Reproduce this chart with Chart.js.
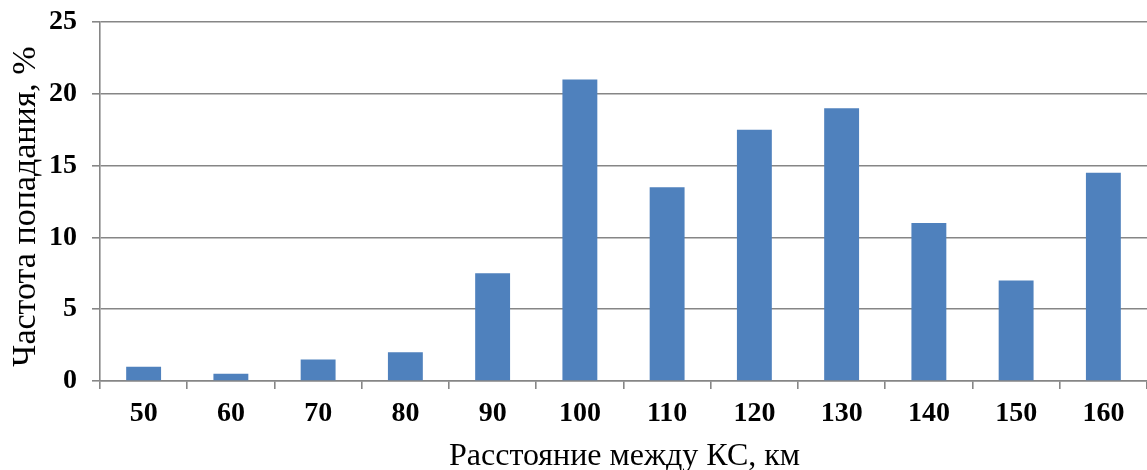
<!DOCTYPE html>
<html>
<head>
<meta charset="utf-8">
<script src="https://cdn.jsdelivr.net/npm/chart.js@4"></script>
<style>
  html, body { margin: 0; padding: 0; background: #fff; }
  #wrap { width: 1147px; height: 470px; }
</style>
</head>
<body>
<div id="wrap"><canvas id="c" width="1147" height="470"></canvas></div>
<script>
// Distance between compressor stations, km
const distances = ['50', '60', '70', '80', '90', '100', '110', '120', '130', '140', '150', '160'];
// Frequency of occurrence, %
const frequency = [1, 0.5, 1.5, 2, 7.5, 21, 13.5, 17.5, 19, 11, 7, 14.5];
const yTicks = [0, 5, 10, 15, 20, 25];

const xTitle = 'Расстояние между КС, км';
const yTitle = 'Частота попадания, %';

const serif = '"Liberation Serif", "Times New Roman", serif';
const gridColor = '#868686';

// Axis titles, placed relative to the chart area
const axisTitles = {
  id: 'axisTitles',
  afterDraw(chart) {
    const { ctx, chartArea } = chart;
    ctx.save();
    ctx.fillStyle = '#000';
    ctx.textAlign = 'center';
    ctx.textBaseline = 'alphabetic';
    ctx.font = '32px ' + serif;
    ctx.fillText(xTitle, (chartArea.left + chartArea.right) / 2 + 1, 465);
    ctx.translate(35, (chartArea.top + chartArea.bottom) / 2 + 5);
    ctx.rotate(-Math.PI / 2);
    ctx.font = '34px ' + serif;
    ctx.fillText(yTitle, 0, 0);
    ctx.restore();
  }
};

new Chart(document.getElementById('c'), {
  type: 'bar',
  data: {
    labels: distances,
    datasets: [{
      data: frequency,
      backgroundColor: '#4F81BD',
      borderWidth: 0,
      barPercentage: 0.4,
      categoryPercentage: 1.0
    }]
  },
  plugins: [axisTitles],
  options: {
    responsive: false,
    animation: false,
    layout: { padding: { top: 22, right: 0, bottom: 0, left: 0 } },
    plugins: { legend: { display: false }, tooltip: { enabled: false } },
    scales: {
      x: {
        offset: true,
        grid: {
          offset: true,
          drawOnChartArea: false,
          drawTicks: true,
          tickLength: 8,
          color: gridColor,
          lineWidth: 1.6
        },
        border: { display: true, color: gridColor, width: 1.6 },
        ticks: {
          padding: 8,
          color: '#000',
          font: { family: serif, size: 28, weight: 'bold' },
          maxRotation: 0
        },
        afterFit(scale) {
          scale.height = 89;
          scale.paddingLeft = 0;
          scale.paddingRight = 0;
        }
      },
      y: {
        min: 0,
        max: 25,
        afterBuildTicks(scale) { scale.ticks = yTicks.map(v => ({ value: v })); },
        grid: {
          drawTicks: true,
          tickLength: 8,
          color: gridColor,
          lineWidth: 1.6
        },
        border: { display: true, color: gridColor, width: 1.6 },
        ticks: {
          padding: 15,
          color: '#000',
          font: { family: serif, size: 28, weight: 'bold' }
        },
        afterFit(scale) {
          scale.width = 100;
          scale.paddingTop = 0;
          scale.paddingBottom = 0;
        }
      }
    }
  }
});
</script>
</body>
</html>
